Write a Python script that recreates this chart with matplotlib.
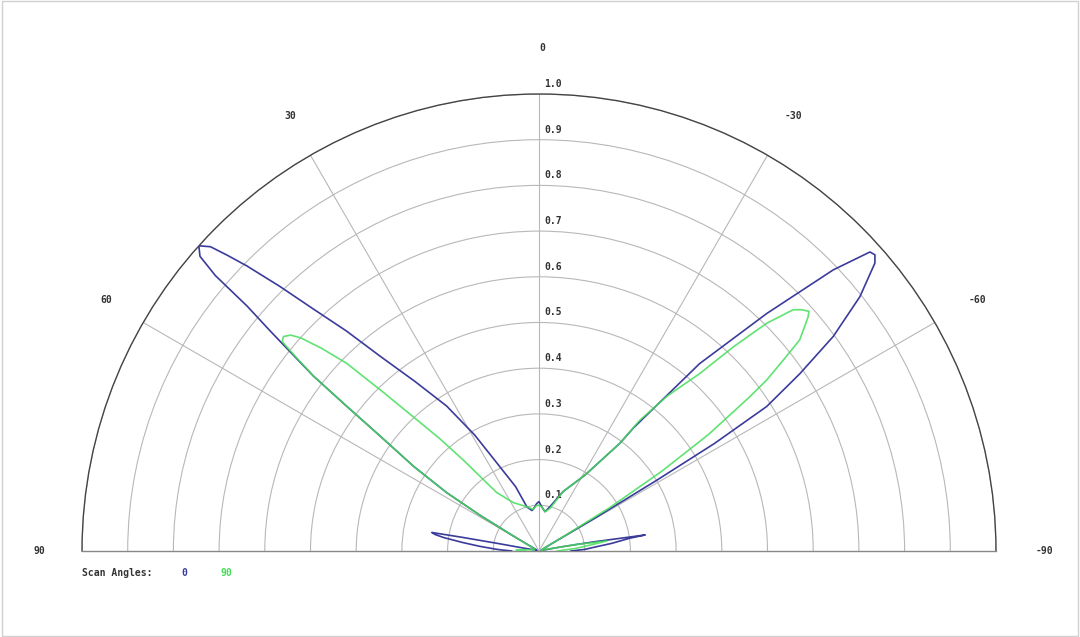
import numpy as np
import matplotlib
matplotlib.use("Agg")
import matplotlib.pyplot as plt
from matplotlib.patches import Rectangle

# Data: (angle in degrees, normalised amplitude)
scan0_theta = [90, 88.5, 87.7, 85.5, 83.7, 82, 81, 80.2, 79.9, 79.6, 79.2, 76, 70, 64, 61, 59.7,
               58.8, 57.7, 56, 54.1, 53, 52.2, 51.3, 50.7, 50.0, 49.6, 49.0, 48.1, 47.2, 46.5,
               45.7, 44.4, 43.0, 41.2, 39.2, 36.2, 32.5, 29, 25.6, 20, 15.3, 10, 7.8, 2.8, 0,
               -3.5, -8.7, -13.9, -22, -31.2, -36.9, -37.5, -40.6, -43.8, -46.3, -47.9, -48.6,
               -49.4, -51.6, -53.9, -55.8, -57.6, -58.5, -59, -59.5, -60, -64, -72, -78, -79.5,
               -80.5, -81.4, -82, -84, -85.7, -88, -90]
scan0_r = [0.06, 0.08, 0.093, 0.13, 0.167, 0.21, 0.23, 0.238, 0.17, 0.09, 0.03, 0.01, 0.005, 0.008, 0.02, 0.065,
           0.15, 0.239, 0.33, 0.43, 0.53, 0.625, 0.70, 0.76, 0.834, 0.93, 0.983, 1.0, 0.98, 0.94,
           0.893, 0.81, 0.724, 0.64, 0.55, 0.46, 0.376, 0.29, 0.214, 0.15, 0.10, 0.09, 0.092, 0.104, 0.108,
           0.097, 0.087, 0.0999, 0.14, 0.194, 0.295, 0.339, 0.54, 0.72, 0.89, 0.976, 0.98,
           0.968, 0.896, 0.797, 0.69, 0.59, 0.45, 0.3, 0.15, 0.03, 0.01, 0.005, 0.01, 0.05,
           0.12, 0.235, 0.2, 0.16, 0.127, 0.1, 0.07]

scan90_theta = [90, 88, 86, 82, 75, 65, 61, 59.7, 58.8, 57.7, 56, 54.1, 53, 52.2, 51.3, 50.8, 50.0,
                49, 48.2, 47, 45.7, 44.5, 43.1, 41.5, 39.8, 35.9, 28, 15, 8, 3, 0, -3.5, -8.7, -14.4,
                -22, -31.2, -36.9, -37.6, -39.6, -42.2, -43.6, -45, -46.5, -47.4, -48.4, -49, -51,
                -52, -53.1, -53.8, -55.5, -57, -58.5, -59.5, -62, -72, -78, -80, -81.6, -83,
                -86, -90]
scan90_r = [0.03, 0.05, 0.04, 0.02, 0.01, 0.01, 0.03, 0.065, 0.15, 0.239, 0.33, 0.43, 0.53, 0.625, 0.69, 0.725, 0.73,
            0.72, 0.70, 0.65, 0.588, 0.49, 0.40, 0.33, 0.26, 0.158, 0.12, 0.10, 0.092, 0.1, 0.1, 0.097, 0.087, 0.096,
            0.14, 0.194, 0.295, 0.36, 0.44, 0.525, 0.617, 0.705, 0.767, 0.78, 0.79, 0.78, 0.734,
            0.678, 0.623, 0.572, 0.45, 0.32, 0.18, 0.06, 0.01, 0.005, 0.02, 0.08, 0.15, 0.12,
            0.08, 0.04]

ring_values = [0.1, 0.2, 0.3, 0.4, 0.5, 0.6, 0.7, 0.8, 0.9, 1.0]
ring_labels = ["0.1", "0.2", "0.3", "0.4", "0.5", "0.6", "0.7", "0.8", "0.9", "1.0"]
angle_ticks = [90, 60, 30, 0, -30, -60, -90]
angle_labels = ["90", "60", "30", "0", "-30", "-60", "-90"]

blue = "#3b3b9c"
green = "#45de5a"
mono = "DejaVu Sans Mono"
txt = "#333333"

W, H = 1080, 637
cx, cy, R = 539, 551, 457   # centre and radius in pixels (from top)

fig = plt.figure(figsize=(10.8, 6.37), dpi=100)
# square box of side 2R, centred on the middle of the half-disc
box_bottom = H - (cy - R / 2) - R
ax = fig.add_axes([(cx - R) / W, box_bottom / H, 2 * R / W, 2 * R / H], projection="polar")
ax.set_theta_zero_location("N")
ax.set_thetamin(-90)
ax.set_thetamax(90)
ax.set_ylim(0, 1)

ax.set_rgrids(ring_values, labels=[""] * len(ring_values))
ax.set_thetagrids([-60, -30, 0, 30, 60], labels=[""] * 5)
ax.grid(True, color="#b8b8b8", lw=0.8)
ax.spines["polar"].set_color("#444444")
ax.spines["polar"].set_linewidth(1.0)
for s in ["start", "end"]:
    ax.spines[s].set_color("#888888")
    ax.spines[s].set_linewidth(1.0)
ax.tick_params(length=0)

ax.plot(np.radians(scan0_theta), scan0_r, color=blue, lw=1.2, zorder=3)
ax.plot(np.radians(scan90_theta), scan90_r, color=green, lw=1.2, alpha=0.85, zorder=4)

# radial labels along the 0 deg spoke
for r, lab in zip(ring_values, ring_labels):
    ax.annotate(lab, xy=(0, r), xytext=(14, 10), textcoords="offset pixels",
                ha="center", va="center", fontsize=7, family=mono, weight="bold",
                color=txt, annotation_clip=False)

# angle labels outside the arc
for a, lab in zip(angle_ticks, angle_labels):
    ax.annotate(lab, xy=(np.radians(a), 1.1), xytext=(3, 0), textcoords="offset pixels",
                ha="center", va="center", fontsize=7, family=mono, weight="bold",
                color=txt, annotation_clip=False)

fig.text(82 / W, 1 - 573 / H, "Scan Angles:", ha="left", va="center",
         fontsize=7, family=mono, weight="bold", color=txt)
fig.text(184 / W, 1 - 573 / H, "0", ha="center", va="center",
         fontsize=7, family=mono, weight="bold", color=blue)
fig.text(226 / W, 1 - 573 / H, "90", ha="center", va="center",
         fontsize=7, family=mono, weight="bold", color=green)

fig.patches.append(Rectangle((0.002, 0.002), 0.996, 0.996, transform=fig.transFigure,
                             fill=False, edgecolor="#d0d0d0", lw=1))

fig.savefig("out.png", dpi=100)
